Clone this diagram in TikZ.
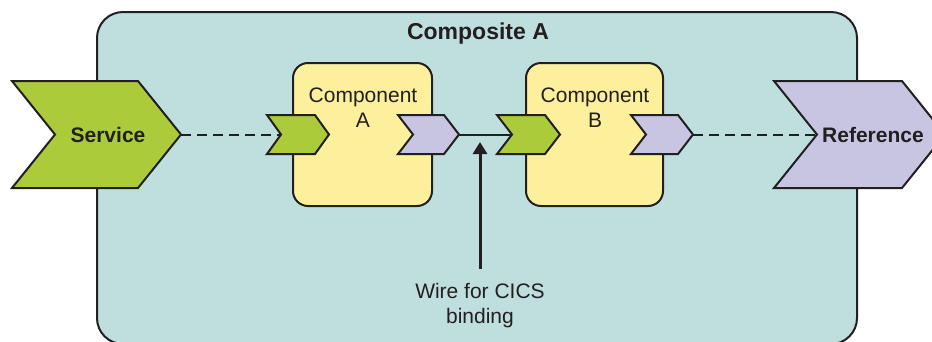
\documentclass[tikz,border=0pt]{standalone}
\usepackage{fontspec}
\setmainfont{Liberation Sans}
\usetikzlibrary{arrows.meta}
\definecolor{teal}{HTML}{BFDFDE}
\definecolor{grn}{HTML}{ABCB3B}
\definecolor{purp}{HTML}{C8C5E2}
\definecolor{yel}{HTML}{FCF09C}
\definecolor{ink}{HTML}{231F20}
\tikzset{
  outline/.style={draw=ink, line width=2pt, line join=miter},
  compbox/.style={outline, fill=yel, rounded corners=15pt},
  grnchev/.style={outline, fill=grn},
  purchev/.style={outline, fill=purp},
  lbl/.style={text=ink, font=\fontsize{21}{25}\selectfont, align=center, inner sep=0pt},
  blbl/.style={text=ink, font=\fontsize{21}{25}\selectfont\bfseries, inner sep=0pt},
  dashline/.style={draw=ink, line width=2pt, dash pattern=on 10pt off 6pt},
  wireline/.style={draw=ink, line width=2pt},
}
% chevron: #1 style, #2 left x, #3 top-right x, #4 depth, #5 mid y, #6 half height, #7 name
\newcommand{\mychev}[7]{%
  \draw[#1] (#2,#5-#6) -- (#3,#5-#6) -- (#3+#4,#5) -- (#3,#5+#6) -- (#2,#5+#6) -- (#2+#4,#5) -- cycle;
  \coordinate (#7tip) at (#3+#4,#5);
  \coordinate (#7notch) at (#2+#4,#5);
}
\begin{document}
\begin{tikzpicture}[x=1pt,y=-1pt]
\useasboundingbox (0,0) rectangle (932,341);
% composite
\draw[outline, fill=teal, rounded corners=26pt] (97,12) rectangle (857,344);
\node[text=ink, font=\fontsize{23}{27}\selectfont\bfseries, inner sep=0pt] (title) at (478,34) {Composite A};
% components
\draw[compbox] (293,63) rectangle (432,206);
\draw[compbox] (526,63) rectangle (663,206);
\node[lbl] (compA) at (363,107.5) {Component\\A};
\node[lbl] (compB) at (595,107.5) {Component\\B};
% chevrons
\mychev{grnchev}{12}{138}{43}{134.5}{53.5}{svc}
\mychev{purchev}{774}{902}{43}{134.5}{53.5}{ref}
\mychev{grnchev}{267}{315}{14}{134.5}{19.5}{ain}
\mychev{purchev}{398}{444}{15}{134.5}{19.5}{aout}
\mychev{grnchev}{497}{545}{15}{134.5}{19.5}{bin}
\mychev{purchev}{631}{678}{15}{134.5}{19.5}{bout}
\node[blbl] (svctext) at (108,134.5) {Service};
\node[blbl] (reftext) at (873,134.5) {Reference};
% connectors
\draw[dashline] (svctip) -- (ainnotch);
\draw[dashline] (bouttip) -- (refnotch);
\draw[wireline] (aouttip) -- (binnotch);
% wire label and arrow
\node[lbl] (wire) at (480,306) {Wire for CICS\\binding};
\coordinate (arrowtip) at (480,142);
\coordinate (arrowbase) at (480,269);
\draw[draw=ink, line width=3pt, -{Triangle[length=12pt,width=14pt]}] (arrowbase) -- (arrowtip);
\end{tikzpicture}
\end{document}
